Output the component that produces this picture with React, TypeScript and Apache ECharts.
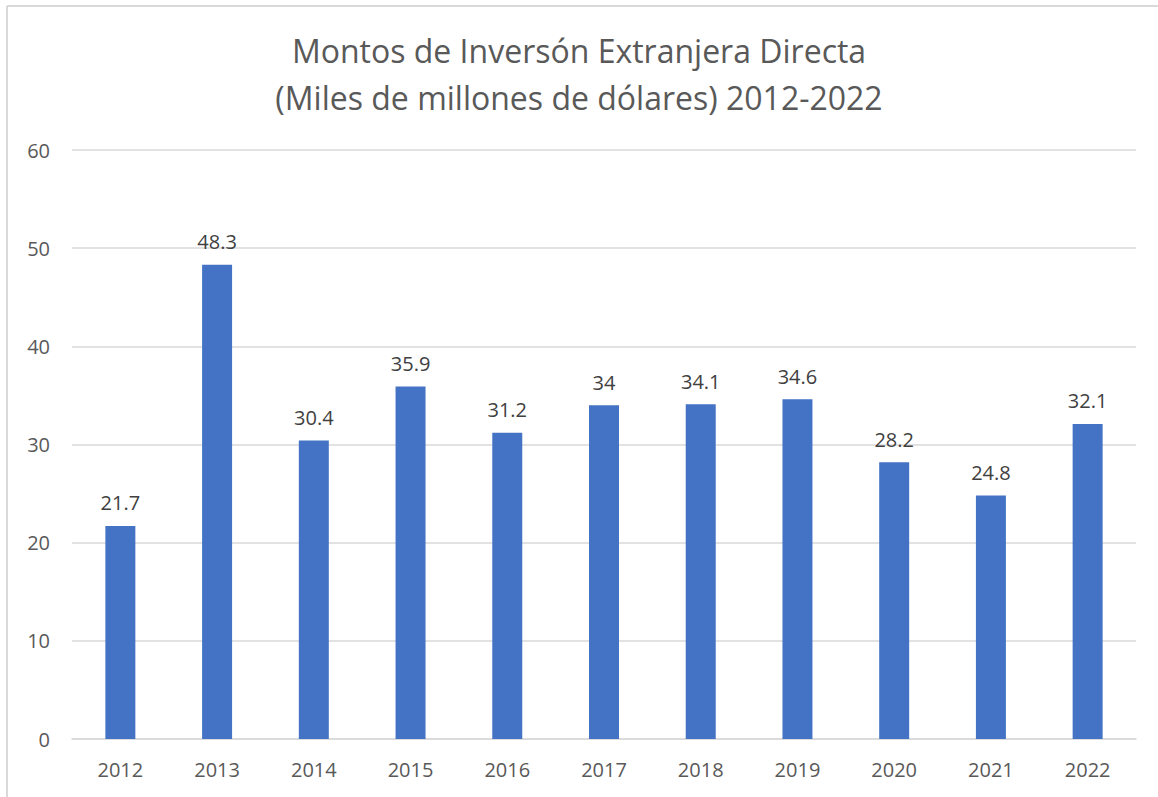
import React, { useEffect, useRef } from "react";
import * as echarts from "echarts";

const years = ["2012", "2013", "2014", "2015", "2016", "2017", "2018", "2019", "2020", "2021", "2022"];
const amounts = [21.7, 48.3, 30.4, 35.9, 31.2, 34, 34.1, 34.6, 28.2, 24.8, 32.1];
const titleLines = ["Montos de Inversón Extranjera Directa", "(Miles de millones de dólares) 2012-2022"];

const FONT = "'Open Sans', 'Liberation Sans', sans-serif";

export default function App() {
  const ref = useRef<HTMLDivElement>(null);
  useEffect(() => {
    if (!ref.current) return;
    const chart = echarts.init(ref.current, null, { renderer: "svg" });
    chart.setOption({
      animation: false,
      backgroundColor: "#ffffff",
      title: {
        text: titleLines.join("\n"),
        left: "center",
        top: 22,
        textStyle: {
          fontFamily: FONT,
          fontSize: 32,
          fontWeight: "normal",
          color: "#595959",
          lineHeight: 47,
        },
      },
      graphic: [
        { type: "line", shape: { x1: 7, y1: 6, x2: 1158, y2: 6 }, style: { stroke: "#d9d9d9", lineWidth: 2 } },
        { type: "line", shape: { x1: 7, y1: 6, x2: 7, y2: 797 }, style: { stroke: "#d9d9d9", lineWidth: 2 } },
      ],
      grid: { left: 72, right: 22, top: 150, bottom: 58, containLabel: false },
      xAxis: {
        type: "category",
        data: years,
        axisLine: { lineStyle: { color: "#d9d9d9", width: 1.5 } },
        axisTick: { show: false },
        axisLabel: { color: "#595959", fontSize: 20, fontFamily: FONT, margin: 20 },
      },
      yAxis: {
        type: "value",
        min: 0,
        max: 60,
        interval: 10,
        axisLine: { show: false },
        axisTick: { show: false },
        splitLine: { lineStyle: { color: "#d9d9d9", width: 1.5 } },
        axisLabel: { color: "#595959", fontSize: 20, fontFamily: FONT, margin: 22 },
      },
      series: [
        {
          type: "bar",
          data: amounts,
          barWidth: "31%",
          itemStyle: { color: "#4472C4" },
          label: {
            show: true,
            position: "top",
            distance: 13,
            color: "#404040",
            fontSize: 20,
            fontFamily: FONT,
          },
        },
      ],
    });
    return () => chart.dispose();
  }, []);
  return <div ref={ref} style={{ position: "fixed", left: 0, top: 0, width: 1158, height: 797 }} />;
}
